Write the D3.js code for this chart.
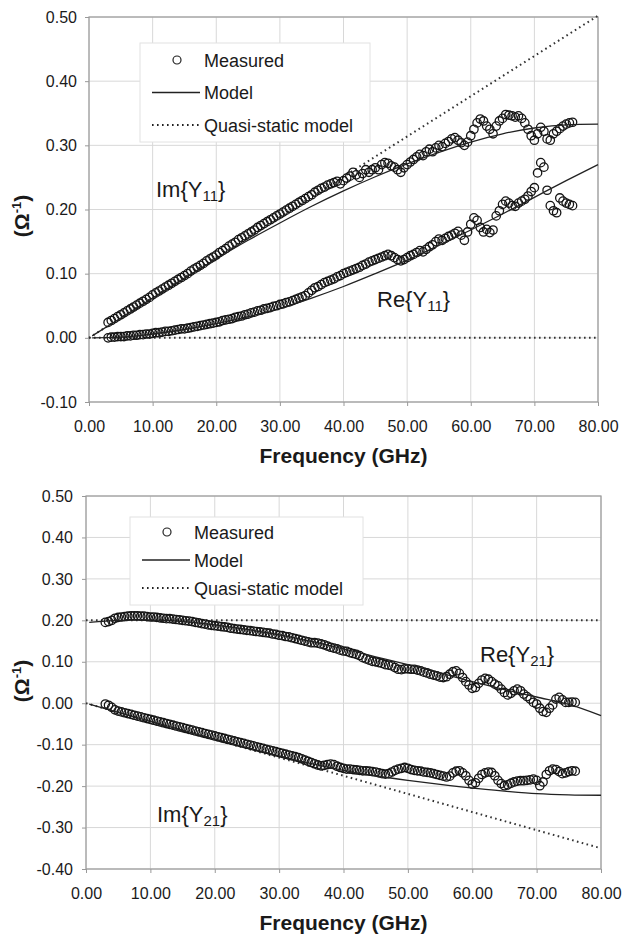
<!DOCTYPE html>
<html>
<head>
<meta charset="utf-8">
<script src="https://cdn.jsdelivr.net/npm/d3@7"></script>
<style>
body { margin: 0; background: #fff; }
text { font-family: Arial, "Liberation Sans", sans-serif; fill: #1a1a1a; }
</style>
</head>
<body>
<svg id="chart" width="623" height="937"></svg>
<script>
// measurement sweep (GHz)
var freq = [
  3,3.5,4,4.5,5,5.5,6,6.5,7,7.5,
  8,8.5,9,9.5,10,10.5,11,11.5,12,12.5,
  13,13.5,14,14.5,15,15.5,16,16.5,17,17.5,
  18,18.5,19,19.5,20,20.5,21,21.5,22,22.5,
  23,23.5,24,24.5,25,25.5,26,26.5,27,27.5,
  28,28.5,29,29.5,30,30.5,31,31.5,32,32.5,
  33,33.5,34,34.5,35,35.5,36,36.5,37,37.5,
  38,38.5,39,39.5,40,40.5,41,41.5,42,42.5,
  43,43.5,44,44.5,45,45.5,46,46.5,47,47.5,
  48,48.5,49,49.5,50,50.5,51,51.5,52,52.5,
  53,53.5,54,54.5,55,55.5,56,56.5,57,57.5,
  58,58.5,59,59.5,60,60.5,61,61.5,62,62.5,
  63,63.5,64,64.5,65,65.5,66,66.5,67,67.5,
  68,68.5,69,69.5,70,70.5,71,71.5,72,72.5,
  73,73.5,74,74.5,75,75.5,76
];

// measured Y11
var imY11 = [
  0.024,0.027,0.030,0.033,0.036,0.039,0.042,0.045,0.048,0.051,
  0.054,0.057,0.060,0.063,0.067,0.070,0.073,0.076,0.079,0.082,
  0.085,0.088,0.091,0.094,0.097,0.100,0.104,0.107,0.110,0.113,
  0.116,0.120,0.123,0.126,0.129,0.133,0.136,0.139,0.143,0.146,
  0.149,0.153,0.156,0.159,0.162,0.165,0.168,0.172,0.175,0.178,
  0.181,0.184,0.187,0.190,0.193,0.196,0.199,0.202,0.205,0.208,
  0.211,0.214,0.217,0.220,0.223,0.227,0.230,0.233,0.235,0.238,
  0.240,0.242,0.244,0.240,0.245,0.249,0.252,0.258,0.254,0.250,
  0.256,0.262,0.258,0.262,0.265,0.262,0.270,0.273,0.272,0.268,
  0.266,0.262,0.258,0.265,0.270,0.274,0.278,0.282,0.286,0.284,
  0.290,0.294,0.290,0.296,0.300,0.298,0.303,0.306,0.310,0.312,
  0.308,0.304,0.300,0.305,0.315,0.325,0.335,0.341,0.338,0.330,
  0.325,0.318,0.330,0.338,0.342,0.348,0.347,0.346,0.344,0.346,
  0.342,0.335,0.325,0.315,0.308,0.318,0.328,0.322,0.310,0.308,
  0.318,0.322,0.326,0.330,0.333,0.335,0.336
];
var reY11 = [
  0.000,0.001,0.001,0.002,0.002,0.002,0.003,0.003,0.004,0.004,
  0.005,0.005,0.006,0.006,0.007,0.008,0.008,0.009,0.010,0.010,
  0.011,0.012,0.013,0.014,0.014,0.015,0.016,0.017,0.018,0.019,
  0.020,0.021,0.022,0.023,0.024,0.025,0.027,0.028,0.029,0.030,
  0.032,0.033,0.034,0.036,0.037,0.039,0.040,0.042,0.043,0.045,
  0.046,0.047,0.049,0.050,0.052,0.053,0.055,0.056,0.058,0.060,
  0.062,0.064,0.066,0.070,0.074,0.078,0.080,0.083,0.086,0.088,
  0.090,0.092,0.095,0.097,0.100,0.102,0.104,0.106,0.108,0.110,
  0.113,0.115,0.118,0.120,0.122,0.124,0.126,0.128,0.130,0.128,
  0.125,0.122,0.120,0.122,0.125,0.128,0.130,0.133,0.136,0.134,
  0.138,0.142,0.145,0.150,0.154,0.152,0.155,0.158,0.160,0.163,
  0.166,0.160,0.152,0.165,0.177,0.187,0.183,0.172,0.165,0.169,
  0.164,0.168,0.190,0.198,0.208,0.213,0.210,0.206,0.205,0.210,
  0.213,0.216,0.221,0.228,0.234,0.257,0.273,0.266,0.230,0.206,
  0.198,0.195,0.218,0.213,0.210,0.208,0.206
];

// measured Y21
var reY21 = [
  0.195,0.197,0.200,0.205,0.207,0.208,0.209,0.210,0.211,0.211,
  0.211,0.210,0.210,0.209,0.208,0.208,0.207,0.206,0.205,0.204,
  0.204,0.203,0.202,0.201,0.200,0.199,0.198,0.197,0.195,0.194,
  0.192,0.191,0.189,0.188,0.187,0.186,0.185,0.184,0.183,0.181,
  0.180,0.179,0.178,0.177,0.176,0.175,0.174,0.173,0.172,0.171,
  0.170,0.169,0.167,0.166,0.164,0.163,0.161,0.160,0.158,0.156,
  0.154,0.152,0.150,0.148,0.146,0.146,0.145,0.143,0.141,0.138,
  0.135,0.133,0.131,0.128,0.126,0.125,0.122,0.120,0.118,0.115,
  0.110,0.107,0.104,0.101,0.100,0.098,0.096,0.093,0.092,0.090,
  0.086,0.082,0.081,0.083,0.083,0.082,0.082,0.080,0.078,0.075,
  0.073,0.070,0.068,0.066,0.063,0.062,0.064,0.070,0.076,0.078,
  0.072,0.062,0.052,0.044,0.036,0.038,0.048,0.056,0.060,0.058,
  0.052,0.046,0.042,0.034,0.026,0.020,0.024,0.030,0.034,0.030,
  0.022,0.016,0.010,0.002,-0.002,-0.012,-0.020,-0.022,-0.012,-0.004,
  0.010,0.014,0.008,0.002,0.002,0.003,0.002
];
var imY21 = [
  -0.002,-0.005,-0.010,-0.016,-0.019,-0.021,-0.023,-0.025,-0.027,-0.029,
  -0.031,-0.033,-0.035,-0.037,-0.039,-0.041,-0.043,-0.045,-0.047,-0.049,
  -0.051,-0.053,-0.055,-0.057,-0.059,-0.061,-0.063,-0.065,-0.067,-0.069,
  -0.071,-0.073,-0.075,-0.077,-0.079,-0.081,-0.083,-0.085,-0.087,-0.089,
  -0.091,-0.093,-0.095,-0.097,-0.099,-0.101,-0.103,-0.105,-0.107,-0.109,
  -0.111,-0.113,-0.115,-0.117,-0.119,-0.121,-0.123,-0.125,-0.127,-0.129,
  -0.131,-0.134,-0.137,-0.140,-0.143,-0.146,-0.149,-0.151,-0.150,-0.148,
  -0.147,-0.148,-0.152,-0.155,-0.157,-0.159,-0.159,-0.160,-0.161,-0.162,
  -0.163,-0.163,-0.164,-0.165,-0.166,-0.168,-0.170,-0.171,-0.170,-0.166,
  -0.162,-0.159,-0.157,-0.155,-0.157,-0.160,-0.162,-0.163,-0.164,-0.166,
  -0.167,-0.168,-0.170,-0.172,-0.174,-0.176,-0.178,-0.176,-0.168,-0.164,
  -0.163,-0.168,-0.175,-0.186,-0.195,-0.192,-0.181,-0.172,-0.168,-0.166,
  -0.167,-0.175,-0.186,-0.194,-0.199,-0.197,-0.193,-0.190,-0.188,-0.187,
  -0.187,-0.186,-0.185,-0.183,-0.186,-0.199,-0.190,-0.172,-0.163,-0.159,
  -0.160,-0.165,-0.170,-0.168,-0.165,-0.163,-0.164
];

// model curves
var modelFreq = [0.5,5,10,15,20,25,30,35,40,45,50,55,60,65,70,75,80];
var imY11Model = [0.003,0.031,0.062,0.093,0.123,0.152,0.179,0.205,0.229,0.251,0.271,0.289,0.305,0.318,0.327,0.332,0.333];
var reY11Model = [0.000,0.001,0.006,0.013,0.022,0.033,0.046,0.062,0.080,0.100,0.121,0.144,0.168,0.193,0.219,0.245,0.270];
var reY21Model = [0.195,0.200,0.201,0.197,0.189,0.178,0.165,0.149,0.131,0.112,0.093,0.073,0.052,0.033,0.015,-0.003,-0.030];
var imY21Model = [-0.002,-0.022,-0.044,-0.065,-0.086,-0.107,-0.127,-0.146,-0.162,-0.175,-0.186,-0.196,-0.205,-0.212,-0.218,-0.221,-0.222];

// quasi-static model (straight lines)
var quasiFreq = [0, 80];
var imY11Quasi = [0, 0.502];
var reY11Quasi = [0, 0];
var reY21Quasi = [0.2, 0.2];
var imY21Quasi = [0, -0.35];

var xTicks = [0,10,20,30,40,50,60,70,80];
var yTicksTop = [-0.1,0,0.1,0.2,0.3,0.4,0.5];
var yTicksBottom = [-0.4,-0.3,-0.2,-0.1,0,0.1,0.2,0.3,0.4,0.5];
var legendLabels = ['Measured', 'Model', 'Quasi-static model'];

var svg = d3.select('#chart');
var fmt = function(d) { return d3.format('.2f')(d).replace('\u2212', '-'); };

var zip = function(xs, ys) {
  return xs.map(function(f, i) { return {f: f, v: ys[i]}; });
};

var drawPanel = function(p) {
  var x = d3.scaleLinear().domain([0, 80]).range([p.left, p.right]);
  var y = d3.scaleLinear().domain(p.yDomain).range([p.bottom, p.top]);
  var g = svg.append('g');

  // grid
  g.selectAll('.vgrid').data(xTicks).enter().append('line')
    .attr('x1', function(d) { return x(d); }).attr('x2', function(d) { return x(d); })
    .attr('y1', p.top).attr('y2', p.bottom)
    .attr('stroke', '#d8d8d8').attr('stroke-width', 1);
  g.selectAll('.hgrid').data(p.yTicks).enter().append('line')
    .attr('x1', p.left).attr('x2', p.right)
    .attr('y1', function(d) { return y(d); }).attr('y2', function(d) { return y(d); })
    .attr('stroke', '#d8d8d8').attr('stroke-width', 1);

  // axes
  var xAxis = d3.axisBottom(x).tickValues(xTicks).tickFormat(fmt).tickSize(4).tickPadding(15);
  var yAxis = d3.axisLeft(y).tickValues(p.yTicks).tickFormat(fmt).tickSize(4).tickPadding(p.yPad);
  var gx = g.append('g').attr('transform', 'translate(0,' + p.bottom + ')').call(xAxis);
  var gy = g.append('g').attr('transform', 'translate(' + p.left + ',0)').call(yAxis);
  [gx, gy].forEach(function(a) {
    a.select('.domain').remove();
    a.selectAll('line').attr('stroke', '#999');
    a.selectAll('text').style('font-size', '16px').attr('fill', '#1a1a1a')
      .style('font-family', 'Arial, "Liberation Sans", sans-serif');
  });

  g.append('rect')
    .attr('x', p.left).attr('y', p.top)
    .attr('width', p.right - p.left).attr('height', p.bottom - p.top)
    .attr('fill', 'none').attr('stroke', '#9a9a9a').attr('stroke-width', 1.2);

  var line = d3.line().x(function(d) { return x(d.f); }).y(function(d) { return y(d.v); });
  var smooth = d3.line().curve(d3.curveMonotoneX)
    .x(function(d) { return x(d.f); }).y(function(d) { return y(d.v); });

  // quasi-static
  p.quasi.forEach(function(q) {
    g.append('path').attr('d', line(zip(quasiFreq, q)))
      .attr('fill', 'none').attr('stroke', '#333').attr('stroke-width', 2)
      .attr('stroke-dasharray', '1.6,3.4');
  });

  // measured
  p.measured.forEach(function(m) {
    g.append('g').selectAll('circle').data(zip(freq, m)).enter().append('circle')
      .attr('cx', function(d) { return x(d.f); })
      .attr('cy', function(d) { return y(d.v); })
      .attr('r', 4.2)
      .attr('fill', 'none').attr('stroke', '#151515').attr('stroke-width', 1.3);
  });

  // model
  p.model.forEach(function(m) {
    g.append('path').attr('d', smooth(zip(modelFreq, m)))
      .attr('fill', 'none').attr('stroke', '#222').attr('stroke-width', 1.3);
  });

  // legend
  var L = p.legend;
  g.append('rect').attr('x', L.x).attr('y', L.y).attr('width', L.w).attr('height', L.h)
    .attr('fill', '#fff').attr('stroke', '#e2e2e2');
  legendLabels.forEach(function(lab, i) {
    var cy = L.y + L.first + i * L.step;
    if (i === 0) {
      g.append('circle').attr('cx', L.x + 37).attr('cy', cy).attr('r', 4)
        .attr('fill', 'none').attr('stroke', '#222').attr('stroke-width', 1.2);
    } else {
      g.append('line').attr('x1', L.x + 12).attr('x2', L.x + 60)
        .attr('y1', cy).attr('y2', cy)
        .attr('stroke', '#222')
        .attr('stroke-width', i === 1 ? 1.4 : 2)
        .attr('stroke-dasharray', i === 1 ? null : '1.6,3.4');
    }
    g.append('text').attr('x', L.x + 64).attr('y', cy + 6.5)
      .style('font-size', '18px').text(lab);
  });

  // curve labels
  p.labels.forEach(function(l) {
    var t = g.append('text').attr('x', l.x).attr('y', l.y).style('font-size', '22px');
    t.append('tspan').text(l.pre + '{Y');
    t.append('tspan').attr('dy', 4).style('font-size', '15px').text(l.sub);
    t.append('tspan').attr('dy', -4).text('}');
  });

  // axis titles
  g.append('text').attr('x', (p.left + p.right) / 2).attr('y', p.bottom + 61)
    .attr('text-anchor', 'middle').style('font-size', '21px').style('font-weight', 'bold')
    .text('Frequency (GHz)');
  var yt = g.append('text')
    .attr('transform', 'translate(29,' + p.yTitle + ') rotate(-90)')
    .attr('text-anchor', 'middle').style('font-size', '21px').style('font-weight', 'bold');
  yt.append('tspan').text('(\u03A9');
  yt.append('tspan').attr('dy', -8).style('font-size', '13px').text('-1');
  yt.append('tspan').attr('dy', 8).text(')');
};

drawPanel({
  left: 89, right: 598, top: 17, bottom: 402,
  yDomain: [-0.1, 0.5], yTicks: yTicksTop, yPad: 8, yTitle: 216,
  measured: [imY11, reY11],
  model: [imY11Model, reY11Model],
  quasi: [imY11Quasi, reY11Quasi],
  legend: {x: 140, y: 43, w: 230, h: 99, first: 17, step: 32.5},
  labels: [{x: 156, y: 197, pre: 'Im', sub: '11'}, {x: 377, y: 307, pre: 'Re', sub: '11'}]
});

drawPanel({
  left: 86, right: 601, top: 496, bottom: 869,
  yDomain: [-0.4, 0.5], yTicks: yTicksBottom, yPad: 9, yTitle: 681,
  measured: [reY21, imY21],
  model: [reY21Model, imY21Model],
  quasi: [reY21Quasi, imY21Quasi],
  legend: {x: 130, y: 517, w: 233, h: 88, first: 15, step: 28},
  labels: [{x: 480, y: 662, pre: 'Re', sub: '21'}, {x: 157, y: 822, pre: 'Im', sub: '21'}]
});
</script>
</body>
</html>
